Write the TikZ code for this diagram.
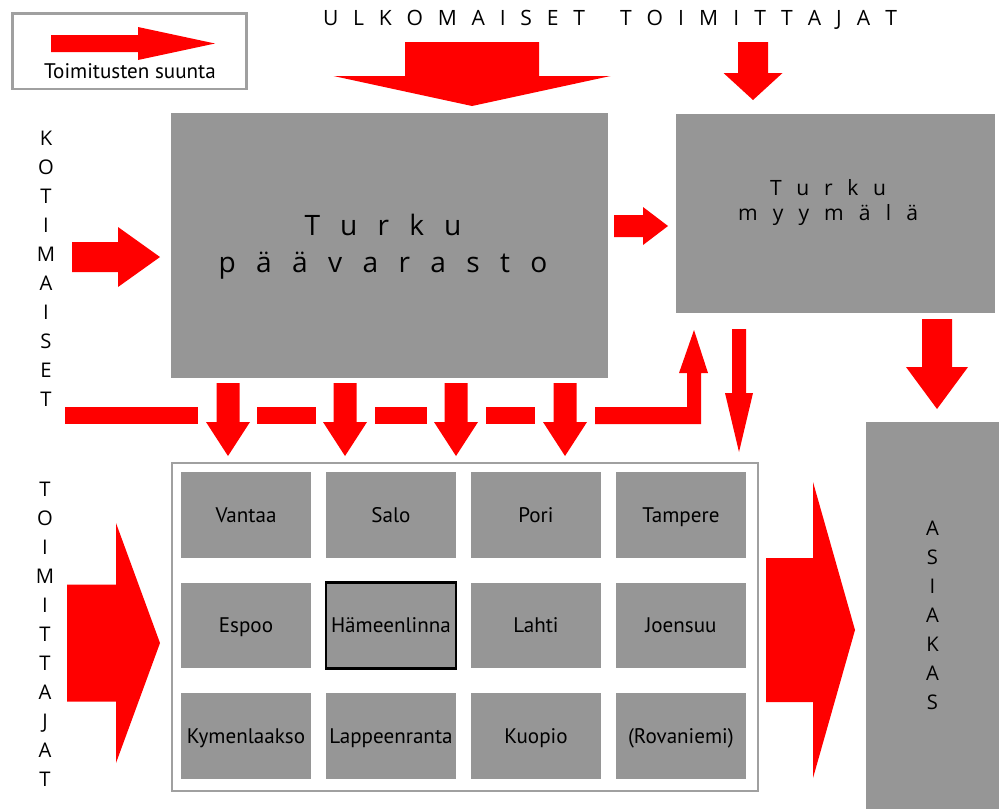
\documentclass[tikz,border=0pt]{standalone}
\usepackage{fontspec}
\setmainfont{Open Sans}
\newfontfamily\cityfont{PT Sans}
\usepackage{tikz}
\usetikzlibrary{positioning}

\definecolor{boxgray}{RGB}{150,150,150}
\definecolor{linegray}{RGB}{160,160,160}
\definecolor{arrowred}{RGB}{255,0,0}

% spaced-out text of a given width
\newcommand{\spread}[2]{\makebox[#1][s]{#2}}
% block arrow: start, angle, length, shaft half, head half, head length
\newcommand{\blockarrow}[6]{%
  \fill[arrowred, shift={#1}, rotate=#2]
    (0,-#4) -- ({#3-#6},-#4) -- ({#3-#6},-#5) -- (#3,0)
    -- ({#3-#6},#5) -- ({#3-#6},#4) -- (0,#4) -- cycle;}

\begin{document}
\begin{tikzpicture}[x = 0.02cm, y = -0.02cm,
                    node distance = 2.21cm and 2.9cm, on grid,
                    bigbox/.style = {rectangle,
                                     fill = boxgray,
                                     inner sep = 0pt},
                    cell/.style   = {rectangle,
                                     fill = boxgray,
                                     minimum width = 2.6cm,
                                     minimum height = 1.72cm,
                                     inner sep = 0pt,
                                     text height = 8.4pt,
                                     text depth = 0pt,
                                     text = black,
                                     font = \cityfont\fontsize{12}{14}\selectfont},
                    spaced/.style = {inner sep = 0pt,
                                     align = center,
                                     text = black},
                    upright/.style = {inner sep = 0pt,
                                      align = center,
                                      font = \fontsize{11.5}{16.5}\selectfont}]

\useasboundingbox (0,0) rectangle (999,809);

% legend
\node[draw = linegray, line width = 0.06cm, minimum width = 4.7cm,
      minimum height = 1.52cm, inner sep = 0pt] (legend) at (129.5,51) {};
\blockarrow{(51,43.5)}{0}{164}{8.5}{16.5}{77}
\node[inner sep = 0pt, font = \cityfont\fontsize{12}{14}\selectfont]
     (legendtext) at (130,71) {Toimitusten suunta};

% suppliers
\node[spaced, font = \fontsize{12}{14}\selectfont] (ulkomaiset) at (610,19.5)
     {\spread{5.24cm}{U L K O M A I S E T}\hspace{0.7cm}%
      \spread{5.54cm}{T O I M I T T A J A T}};
\node[upright] (kotimaiset) at (46,268.5) {K\\O\\T\\I\\M\\A\\I\\S\\E\\T};
\node[upright] (toimittajat) at (45,634.5) {T\\O\\I\\M\\I\\T\\T\\A\\J\\A\\T};

% warehouse and shop
\node[bigbox, minimum width = 8.74cm, minimum height = 5.3cm]
     (paavarasto) at (389.5,245.5) {};
\node[spaced, font = \fontsize{16}{21}\selectfont] (paavarastotext) at (383,247)
     {\spread{3.14cm}{T u r k u}\\ \spread{6.58cm}{p ä ä v a r a s t o}};
\node[bigbox, minimum width = 6.4cm, minimum height = 4cm]
     (myymala) at (835.5,213.5) {};
\node[spaced, font = \fontsize{12}{14.2}\selectfont] (myymalatext) at (828,202.5)
     {\spread{2.32cm}{T u r k u}\\ \spread{3.6cm}{m y y m ä l ä}};

% customer
\node[bigbox, minimum width = 2.66cm, minimum height = 7.74cm, upright]
     (asiakas) at (932.5,615.5) {A\\S\\I\\A\\K\\A\\S};

% branches
\node[draw = linegray, fill = white, line width = 0.04cm, minimum width = 11.72cm,
      minimum height = 6.56cm, inner sep = 0pt] (kaupungit) at (465,627) {};
\node[cell] (vantaa) at (246,515) {Vantaa};
\node[cell] (salo) [right = of vantaa] {Salo};
\node[cell] (pori) [right = of salo] {Pori};
\node[cell] (tampere) [right = of pori] {Tampere};
\node[cell] (espoo) [below = of vantaa] {Espoo};
\node[cell, draw = black, line width = 0.05cm] (hameenlinna) [right = of espoo] {Hämeenlinna};
\node[cell] (lahti) [right = of hameenlinna] {Lahti};
\node[cell] (joensuu) [right = of lahti] {Joensuu};
\node[cell] (kymenlaakso) [below = of espoo] {Kymenlaakso};
\node[cell] (lappeenranta) [right = of kymenlaakso] {Lappeenranta};
\node[cell] (kuopio) [right = of lappeenranta] {Kuopio};
\node[cell] (rovaniemi) [right = of kuopio] {(Rovaniemi)};

% deliveries
\blockarrow{(472,42)}{-90}{64}{67}{138.5}{30}
\blockarrow{(753,42)}{-90}{58}{15}{29.5}{27}
\blockarrow{(72,257)}{0}{88}{15}{30}{42}
\blockarrow{(614,226)}{0}{54}{11}{19}{25}
\foreach \x in {228,345,456,565}{
  \blockarrow{(\x,383)}{-90}{73}{11.5}{22}{34}
}
\blockarrow{(739,329)}{-90}{123}{7}{14}{59}
\blockarrow{(937,319)}{-90}{90}{15}{31}{42}
\blockarrow{(67,643)}{0}{93}{58.5}{120}{44}
\blockarrow{(766,630)}{0}{89}{72}{148}{42}

% domestic line under the warehouse
\fill[arrowred] (65,407) rectangle (198,424);
\fill[arrowred] (257,407) rectangle (316,424);
\fill[arrowred] (375,407) rectangle (427,424);
\fill[arrowred] (486,407) rectangle (535,424);
\fill[arrowred] (595,407) -- (687,407) -- (687,373) -- (679,373) -- (694,330)
  -- (708,373) -- (701,373) -- (701,424) -- (595,424) -- cycle;

\end{tikzpicture}
\end{document}
